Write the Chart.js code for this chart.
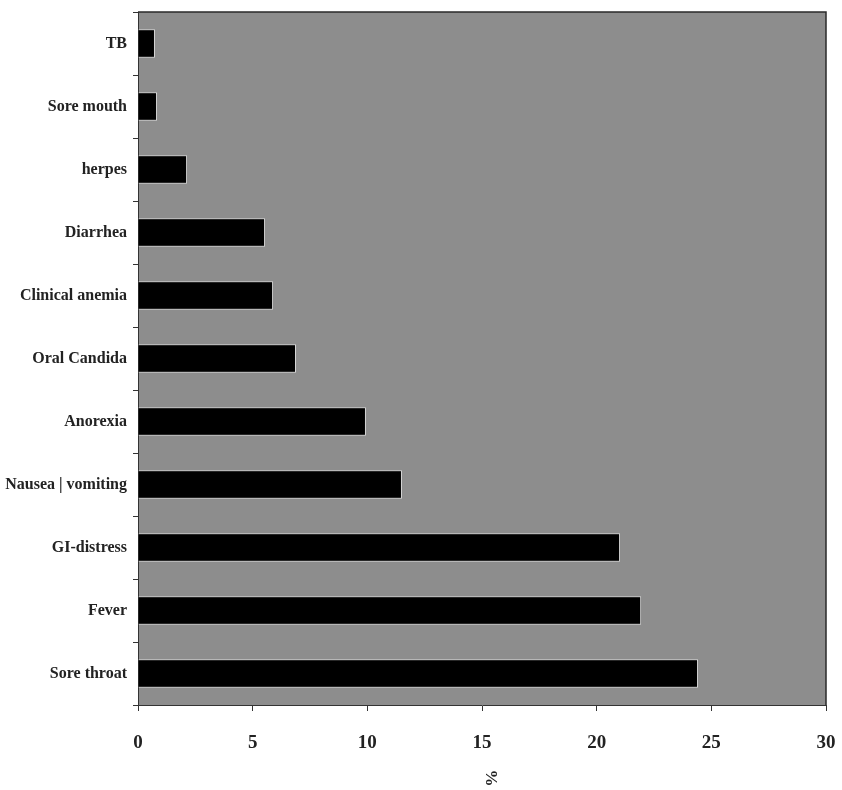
<!DOCTYPE html>
<html>
<head>
<meta charset="utf-8">
<script src="https://cdn.jsdelivr.net/npm/chart.js@4.4.1/dist/chart.umd.min.js"></script>
<style>
  html, body { margin: 0; padding: 0; background: #ffffff; }
  #wrap { width: 842px; height: 790px; }
</style>
</head>
<body>
<div id="wrap"><canvas id="c" width="842" height="790"></canvas></div>
<script>
const categories = ["TB", "Sore mouth", "herpes", "Diarrhea", "Clinical anemia", "Oral Candida", "Anorexia", "Nausea | vomiting", "GI-distress", "Fever", "Sore throat"];
const values = [0.74, 0.83, 2.14, 5.54, 5.89, 6.89, 9.94, 11.51, 21.02, 21.94, 24.42];
const xTicks = [0, 5, 10, 15, 20, 25, 30];
const axisTitle = "%";

const FONT = "'Liberation Serif', 'Times New Roman', serif";

const bgPlugin = {
  id: 'plotBg',
  beforeDraw(chart) {
    const {ctx, chartArea: a} = chart;
    ctx.save();
    ctx.fillStyle = '#8d8d8d';
    ctx.fillRect(a.left, a.top, a.right - a.left, a.bottom - a.top);
    ctx.restore();
  },
  afterDraw(chart) {
    const {ctx, chartArea: a} = chart;
    ctx.save();
    ctx.strokeStyle = '#2a2a2a';
    ctx.lineWidth = 1.5;
    ctx.beginPath();
    ctx.moveTo(a.left, a.top);
    ctx.lineTo(a.right, a.top);
    ctx.lineTo(a.right, a.bottom);
    ctx.stroke();
    // rotated axis title
    ctx.translate((a.left + a.right) / 2 + 8, 778);
    ctx.rotate(Math.PI / 2);
    ctx.fillStyle = '#222';
    ctx.font = "bold 17px " + FONT;
    ctx.textAlign = 'center';
    ctx.textBaseline = 'middle';
    ctx.fillText(axisTitle, 0, 0);
    ctx.restore();
  }
};

new Chart(document.getElementById('c'), {
  type: 'bar',
  data: {
    labels: categories,
    datasets: [{
      data: values,
      backgroundColor: '#000000',
      borderColor: '#d8d8d8',
      borderWidth: 1,
      borderSkipped: 'start',
      barPercentage: 0.45,
      categoryPercentage: 1.0
    }]
  },
  options: {
    indexAxis: 'y',
    responsive: false,
    animation: false,
    devicePixelRatio: 1,
    layout: { padding: { left: 0, right: 16, top: 12, bottom: 0 } },
    plugins: { legend: { display: false }, tooltip: { enabled: false } },
    scales: {
      x: {
        min: 0, max: 30,
        afterBuildTicks(scale) { scale.ticks = xTicks.map(v => ({ value: v })); },
        afterFit(scale) { scale.height = 85; scale.paddingRight = 0; scale.paddingLeft = 0; },
        grid: { display: true, drawOnChartArea: false, drawTicks: true, tickLength: 6, color: '#333' },
        border: { display: true, color: '#333', width: 1 },
        ticks: {
          color: '#222',
          padding: 21,
          maxRotation: 0,
          font: { family: FONT, size: 19, weight: 'bold' }
        }
      },
      y: {
        afterFit(scale) { scale.width = 138; scale.paddingTop = 0; scale.paddingBottom = 0; },
        grid: { display: true, offset: true, drawOnChartArea: false, drawTicks: true, tickLength: 5, color: '#333' },
        border: { display: true, color: '#333', width: 1 },
        ticks: {
          color: '#222',
          padding: 6,
          font: { family: FONT, size: 16, weight: 'bold' }
        }
      }
    }
  },
  plugins: [bgPlugin]
});
</script>
</body>
</html>
